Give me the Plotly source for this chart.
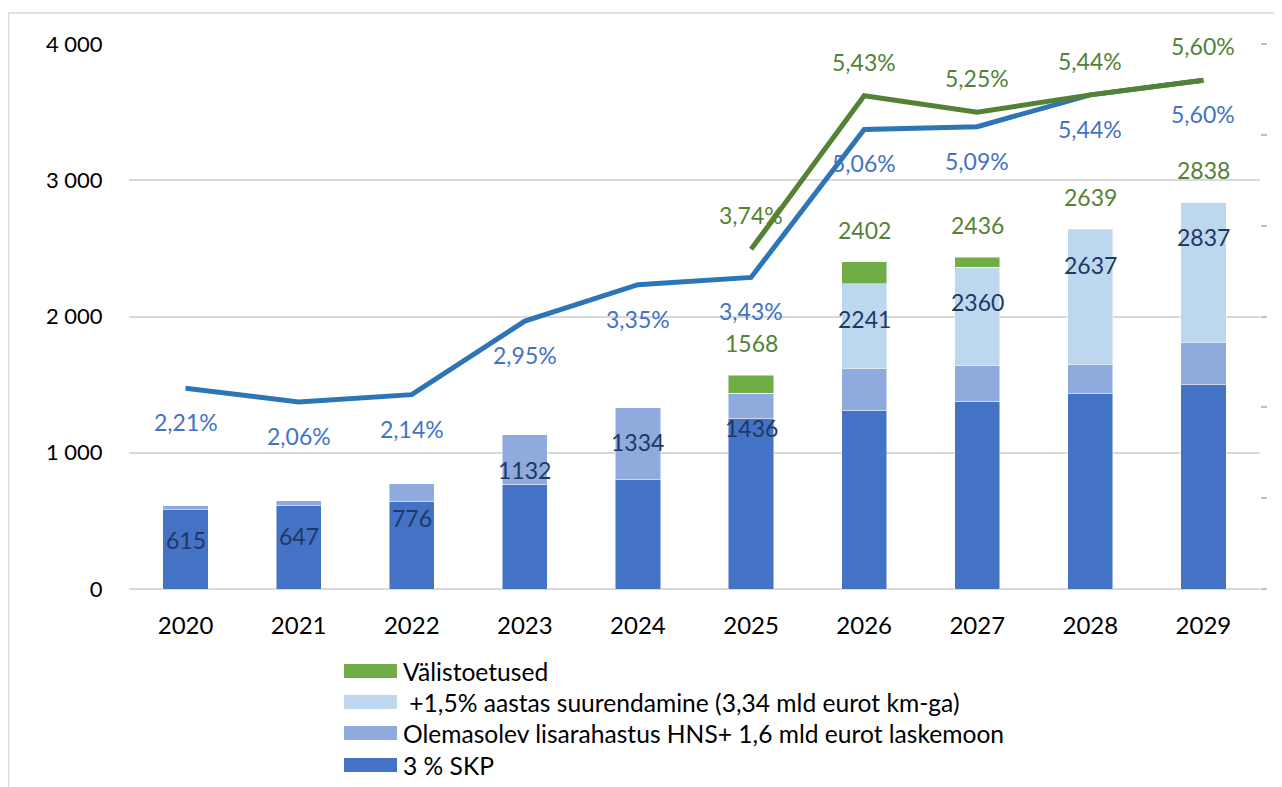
import plotly.graph_objects as go

years = ["2020", "2021", "2022", "2023", "2024", "2025", "2026", "2027", "2028", "2029"]

# Stacked bar segments (mln eurot)
skp_3 = [580, 610, 645, 770, 805, 1255, 1313, 1378, 1436, 1502]
olemasolev = [35, 37, 131, 362, 529, 181, 304, 265, 215, 307]
suurendamine = [0, 0, 0, 0, 0, 0, 624, 717, 986, 1028]
valistoetused = [0, 0, 0, 0, 0, 132, 161, 76, 2, 1]

# Data labels
bar_labels = [615, 647, 776, 1132, 1334, 1436, 2241, 2360, 2637, 2837]
total_years = ["2025", "2026", "2027", "2028", "2029"]
total_labels = [1568, 2402, 2436, 2639, 2838]

# Lines (% of GDP)
pct_blue = [2.21, 2.06, 2.14, 2.95, 3.35, 3.43, 5.06, 5.09, 5.44, 5.60]
green_years = ["2025", "2026", "2027", "2028", "2029"]
pct_green = [3.74, 5.43, 5.25, 5.44, 5.60]

series_names = [
    "Välistoetused",
    "\u00a0+1,5% aastas suurendamine (3,34 mld eurot km-ga)",
    "Olemasolev lisarahastus HNS+ 1,6 mld eurot laskemoon",
    "3 % SKP",
]
series_colors = ["#70AD47", "#BDD7EE", "#8FAADC", "#4472C4"]

FONT = "Lato"
OFF = 8  # page body margin
W, H = 1282 - OFF, 787 - OFF
L, R, T, B = 129 - OFF, 22, 44 - OFF, 198
PW = W - L - R
PH = H - T - B


def px_x(x):
    """page x pixel -> paper coordinate"""
    return (x - OFF - L) / PW


def px_y(y):
    """page y pixel -> paper coordinate"""
    return (T + PH - (y - OFF)) / PH


fig = go.Figure()

stack = [
    (skp_3, series_names[3], series_colors[3]),
    (olemasolev, series_names[2], series_colors[2]),
    (suurendamine, series_names[1], series_colors[1]),
    (valistoetused, series_names[0], series_colors[0]),
]
for vals, name, col in stack:
    fig.add_trace(go.Bar(
        x=years, y=vals, name=name, marker_color=col,
        marker_line=dict(width=0.8, color="rgba(255,255,255,0.6)"),
        showlegend=False, yaxis="y",
    ))

fig.add_trace(go.Scatter(
    x=years, y=pct_blue, mode="lines", line=dict(color="#2E75B6", width=5),
    yaxis="y2", showlegend=False,
))
fig.add_trace(go.Scatter(
    x=green_years, y=pct_green, mode="lines", line=dict(color="#548235", width=5),
    yaxis="y2", showlegend=False,
))


def fmt_pct(v):
    return f"{v:.2f}".replace(".", ",") + "%"


def idx(y):
    return years.index(y)


LBL = 23
ann = []
for x, v in zip(years, bar_labels):
    ann.append(dict(x=idx(x), y=v, xref="x", yref="y", text=str(v), showarrow=False,
                    yshift=-35, font=dict(family=FONT, size=LBL, color="#203864")))
for x, v in zip(total_years, total_labels):
    ann.append(dict(x=idx(x), y=v, xref="x", yref="y", text=str(v), showarrow=False,
                    yshift=32, font=dict(family=FONT, size=LBL, color="#548235")))
for x, v in zip(years, pct_blue):
    ann.append(dict(x=idx(x), y=v, xref="x", yref="y2", text=fmt_pct(v), showarrow=False,
                    yshift=-34, font=dict(family=FONT, size=LBL, color="#4472C4")))
for x, v in zip(green_years, pct_green):
    ann.append(dict(x=idx(x), y=v, xref="x", yref="y2", text=fmt_pct(v), showarrow=False,
                    yshift=34, font=dict(family=FONT, size=LBL, color="#548235")))

# Custom legend (large swatches like the original)
shapes = []
row_px = [671, 702, 733, 765]
sx0, sx1, tx = 344, 397, 401
for name, col, yc in zip(series_names, series_colors, row_px):
    yp = px_y(yc)
    shapes.append(dict(type="rect", xref="paper", yref="paper",
                       x0=px_x(sx0), x1=px_x(sx1),
                       y0=yp - 7 / PH, y1=yp + 7 / PH,
                       fillcolor=col, line=dict(width=0)))
    ann.append(dict(x=px_x(tx), y=yp, xref="paper", yref="paper", text=name,
                    showarrow=False, xanchor="left", yanchor="middle",
                    font=dict(family=FONT, size=24.6, color="#000000")))

# Outer chart border
shapes.append(dict(type="rect", xref="paper", yref="paper",
                   x0=px_x(8.5), x1=px_x(1300),
                   y0=px_y(800), y1=px_y(13),
                   line=dict(color="#d9d9d9", width=1.5), fillcolor="rgba(0,0,0,0)",
                   layer="below"))

fig.update_layout(
    width=W, height=H,
    margin=dict(l=L, r=R, t=T, b=B, pad=0),
    barmode="stack", bargap=0.6,
    plot_bgcolor="white", paper_bgcolor="white",
    separators=", ",
    font=dict(family=FONT, size=23, color="#000000"),
    xaxis=dict(type="category", showgrid=False, showline=False, zeroline=False,
               ticks="outside", ticklen=15, tickcolor="rgba(0,0,0,0)",
               tickfont=dict(family=FONT, size=24, color="#000000"),
               range=[-0.5, 9.5]),
    yaxis=dict(range=[0, 4000], dtick=1000, tickformat=",d",
               showgrid=True, gridcolor="#d9d9d9", gridwidth=1.5,
               zeroline=True, zerolinecolor="#d9d9d9", zerolinewidth=1.5,
               showline=False, ticks="outside", ticklen=21,
               tickcolor="rgba(0,0,0,0)",
               tickfont=dict(family=FONT, size=22, color="#000000")),
    yaxis2=dict(range=[0, 6], dtick=1, overlaying="y", side="right",
                showgrid=False, zeroline=False, showline=False,
                showticklabels=False, ticks="outside", ticklen=6,
                tickcolor="#bfbfbf", tickwidth=1.5),
    annotations=ann,
    shapes=shapes,
    showlegend=False,
)

fig.write_html("out.html")
